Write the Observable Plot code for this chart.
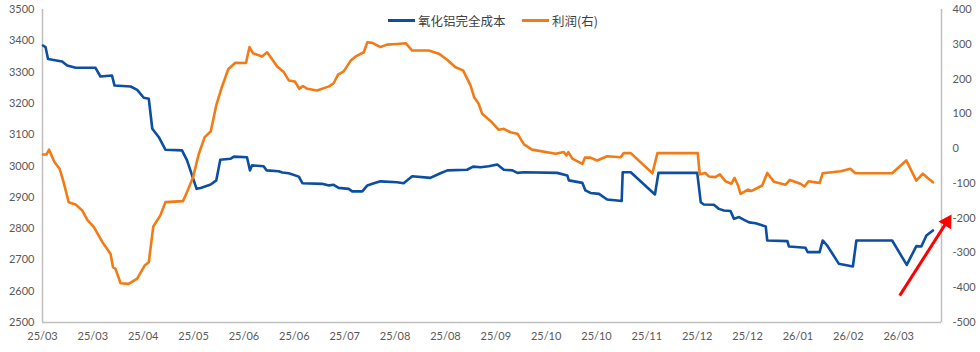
<!DOCTYPE html>
<html>
<head>
<meta charset="utf-8">
<script src="https://cdn.jsdelivr.net/npm/d3@7"></script>
<script src="https://cdn.jsdelivr.net/npm/@observablehq/plot@0.6"></script>
<style>
  html, body { margin: 0; padding: 0; background: #fff; }
  #wrap { position: relative; width: 980px; height: 352px; }
  .leg { position: absolute; top: 10px; height: 20px; display: flex; align-items: center;
         font-family: "Noto Sans CJK SC", "Lato", sans-serif; font-size: 12.5px; color: #404040; white-space: nowrap; }
  .leg .sw { display: inline-block; width: 27px; height: 3px; margin-right: 3px; }
</style>
</head>
<body>
<div id="wrap"></div>
<script>
// X tick labels (positions 0..17 in tick units)
const tickLabels = ["25/03","25/03","25/04","25/05","25/06","25/06","25/07","25/08","25/08","25/09","25/10","25/10","25/11","25/12","25/12","26/01","26/02","26/03"];

// 氧化铝完全成本 (left axis)
const costT = [0.01,0.06,0.11,0.39,0.49,0.66,1.05,1.15,1.38,1.43,1.75,1.88,2.01,2.11,2.18,2.31,2.44,2.77,2.87,3.06,3.14,3.34,3.45,3.53,3.73,3.80,4.06,4.12,4.16,4.39,4.45,4.69,4.76,4.89,5.09,5.16,5.55,5.69,5.78,5.88,6.08,6.15,6.35,6.45,6.55,6.71,7.04,7.17,7.34,7.70,7.90,8.04,8.43,8.55,8.70,8.86,9.03,9.16,9.33,9.43,9.56,10.22,10.42,10.45,10.72,10.78,10.88,11.05,11.21,11.41,11.50,11.52,11.68,12.16,12.23,13.00,13.07,13.13,13.33,13.43,13.53,13.66,13.73,13.83,13.93,14.03,14.16,14.36,14.39,14.79,14.82,15.15,15.19,15.43,15.49,15.58,15.81,16.09,16.16,16.87,17.16,17.35,17.45,17.55,17.68];
const costV = [3385,3380,3342,3334,3321,3314,3314,3286,3289,3257,3254,3243,3218,3215,3119,3092,3052,3050,3018,2927,2930,2941,2954,3020,3023,3030,3028,2986,3002,2999,2986,2983,2979,2977,2966,2945,2943,2938,2940,2930,2927,2919,2919,2938,2943,2951,2948,2945,2967,2962,2977,2986,2988,2998,2996,2999,3005,2988,2986,2978,2980,2978,2970,2954,2946,2922,2914,2911,2893,2890,2888,2980,2980,2909,2978,2978,2884,2877,2876,2863,2858,2856,2831,2837,2828,2820,2817,2807,2762,2760,2743,2739,2725,2725,2762,2746,2688,2679,2762,2762,2684,2744,2743,2778,2794];

// 利润(右) (right axis)
const profitT = [0.01,0.08,0.13,0.19,0.24,0.34,0.42,0.52,0.66,0.79,0.89,1.02,1.19,1.35,1.40,1.45,1.55,1.71,1.88,2.03,2.11,2.20,2.34,2.44,2.79,2.87,2.99,3.10,3.22,3.34,3.45,3.55,3.69,3.83,4.04,4.11,4.18,4.36,4.46,4.66,4.79,4.89,5.01,5.10,5.17,5.26,5.45,5.69,5.78,5.87,5.98,6.12,6.22,6.38,6.45,6.55,6.71,6.84,7.04,7.21,7.34,7.67,7.87,8.04,8.20,8.35,8.50,8.57,8.66,8.73,8.90,9.06,9.16,9.29,9.43,9.56,9.72,10.19,10.35,10.40,10.44,10.52,10.72,10.77,10.88,11.01,11.21,11.48,11.54,11.68,12.11,12.21,13.01,13.05,13.16,13.23,13.36,13.45,13.56,13.68,13.74,13.81,13.86,14.01,14.07,14.29,14.39,14.52,14.75,14.84,15.05,15.13,15.21,15.35,15.43,15.49,15.85,16.04,16.14,16.87,17.15,17.35,17.48,17.57,17.68];
const profitV = [-17,-17,-3,-23,-39,-58,-97,-154,-161,-178,-205,-226,-269,-302,-341,-346,-387,-389,-374,-336,-327,-224,-192,-154,-151,-125,-82,-17,33,49,124,172,229,247,246,292,274,265,277,236,220,196,193,172,180,172,167,179,188,213,222,253,265,277,306,304,292,299,301,303,282,282,273,255,234,225,181,148,129,100,79,54,57,47,43,12,-3,-15,-10,-20,-10,-29,-44,-26,-26,-34,-22,-25,-13,-13,-71,-13,-13,-74,-70,-80,-82,-74,-94,-101,-84,-106,-130,-118,-122,-106,-70,-95,-104,-90,-101,-109,-94,-97,-99,-71,-65,-58,-71,-71,-34,-92,-72,-84,-97];

// Axis tick values
const leftTicks = [2500,2600,2700,2800,2900,3000,3100,3200,3300,3400,3500];
const rightTicks = [-500,-400,-300,-200,-100,0,100,200,300,400];

// Red annotation arrow (t, left-axis value)
const arrowAnno = [{t1: 17.02, v1: 2586, t2: 17.93, v2: 2815}];
const arrowHead = [{t: 17.96, v: 2822}];

// Map right-axis values onto the left scale
const p2c = p => 2500 + (p + 500) * 1000 / 900;
const c2p = c => Math.round((c - 2500) * 900 / 1000 - 500);

const cost = costT.map((t, i) => ({t, v: costV[i]}));
const profit = profitT.map((t, i) => ({t, v: p2c(profitV[i])}));

const axisColor = "#bfbfbf";
const chart = Plot.plot({
  width: 980, height: 352,
  marginLeft: 42, marginRight: 39, marginTop: 9, marginBottom: 30,
  x: {domain: [0, 17.85], axis: null},
  y: {domain: [2500, 3500], axis: null},
  style: {fontFamily: "Lato, 'Liberation Sans', sans-serif", fontSize: "11px", color: "#595959", background: "#fff"},
  marks: [
    Plot.ruleX([0], {stroke: axisColor, strokeWidth: 1.5}),
    Plot.ruleX([17.85], {stroke: axisColor, strokeWidth: 1.5}),
    Plot.ruleY([2500], {stroke: axisColor, strokeWidth: 1.5}),
    Plot.axisY({anchor: "left", ticks: leftTicks, tickFormat: d => String(d), tickSize: 0, tickPadding: 8, label: null, fill: "#595959"}),
    Plot.axisY({anchor: "right", ticks: rightTicks.map(p2c), tickFormat: d => String(c2p(d)), tickSize: 0, tickPadding: 11, label: null, fill: "#595959"}),
    Plot.axisX({anchor: "bottom", ticks: d3.range(tickLabels.length), tickFormat: i => tickLabels[i], tickSize: 0, tickPadding: 10, label: null, fill: "#595959"}),
    Plot.line(cost, {x: "t", y: "v", stroke: "#0b4ea2", strokeWidth: 2.6, strokeLinejoin: "round"}),
    Plot.line(profit, {x: "t", y: "v", stroke: "#f27b16", strokeWidth: 2.6, strokeLinejoin: "round"}),
    Plot.link(arrowAnno, {x1: "t1", y1: "v1", x2: "t2", y2: "v2", stroke: "#ff0000", strokeWidth: 3, clip: false}),
    Plot.dot(arrowHead, {x: "t", y: "v", symbol: "triangle", r: 5.5, fill: "#ff0000", stroke: "none", rotate: 32, clip: false})
  ]
});

const wrap = document.getElementById("wrap");
wrap.appendChild(chart);

const legendItems = [
  {label: "氧化铝完全成本", color: "#0b4ea2", left: 388},
  {label: "利润(右)", color: "#f27b16", left: 522}
];
legendItems.forEach(it => {
  const d = document.createElement("div");
  d.className = "leg";
  d.style.left = it.left + "px";
  const sw = document.createElement("span");
  sw.className = "sw";
  sw.style.background = it.color;
  d.appendChild(sw);
  d.appendChild(document.createTextNode(it.label));
  wrap.appendChild(d);
});
</script>
</body>
</html>
